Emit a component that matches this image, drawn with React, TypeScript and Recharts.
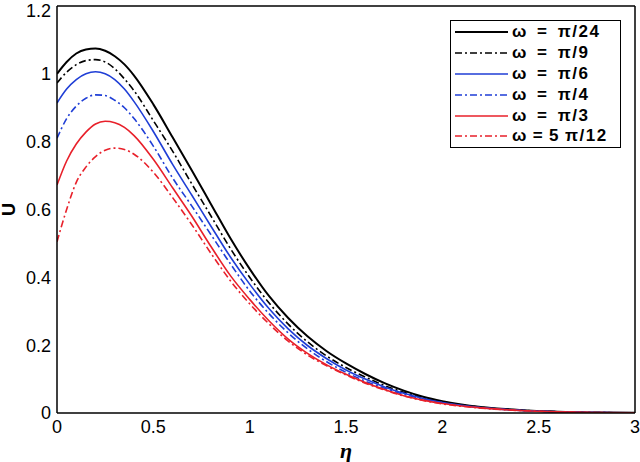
import React from 'react';
import { LineChart, Line, XAxis, YAxis, Legend } from 'recharts';

// similarity variable
const eta = [0, 0.05, 0.1, 0.15, 0.2, 0.25, 0.3, 0.35, 0.4, 0.5, 0.6, 0.7, 0.8, 0.9, 1.0, 1.1, 1.2, 1.3, 1.4, 1.5, 1.6, 1.7, 1.8, 1.9, 2.0, 2.2, 2.4, 2.6, 2.8, 3.0];

// U profiles, one array per omega
const uPi24 = [1.0, 1.035, 1.06, 1.072, 1.075, 1.068, 1.052, 1.028, 0.995, 0.91, 0.813, 0.715, 0.615, 0.515, 0.425, 0.345, 0.28, 0.226, 0.182, 0.146, 0.115, 0.088, 0.066, 0.048, 0.035, 0.018, 0.009, 0.004, 0.0015, 0.0005];
const uPi9 = [0.973, 1.005, 1.027, 1.039, 1.042, 1.035, 1.015, 0.985, 0.95, 0.862, 0.772, 0.675, 0.58, 0.485, 0.4, 0.325, 0.262, 0.21, 0.168, 0.134, 0.106, 0.081, 0.061, 0.045, 0.033, 0.017, 0.0085, 0.0038, 0.0014, 0.0005];
const uPi6 = [0.914, 0.955, 0.983, 1.0, 1.006, 1.0, 0.983, 0.955, 0.918, 0.83, 0.733, 0.642, 0.55, 0.46, 0.38, 0.308, 0.248, 0.199, 0.16, 0.127, 0.1, 0.077, 0.058, 0.043, 0.031, 0.016, 0.008, 0.0036, 0.0013, 0.0004];
const uPi4 = [0.81, 0.868, 0.905, 0.928, 0.938, 0.936, 0.922, 0.9, 0.868, 0.787, 0.693, 0.61, 0.525, 0.44, 0.36, 0.293, 0.236, 0.189, 0.151, 0.12, 0.094, 0.073, 0.055, 0.041, 0.03, 0.0155, 0.0078, 0.0035, 0.0013, 0.0004];
const uPi3 = [0.672, 0.743, 0.793, 0.828, 0.852, 0.86, 0.856, 0.842, 0.818, 0.748, 0.664, 0.58, 0.49, 0.405, 0.335, 0.272, 0.218, 0.176, 0.142, 0.114, 0.09, 0.069, 0.051, 0.038, 0.028, 0.015, 0.0075, 0.0034, 0.0012, 0.0004];
const u5Pi12 = [0.505, 0.6, 0.68, 0.725, 0.756, 0.775, 0.781, 0.777, 0.763, 0.71, 0.635, 0.555, 0.47, 0.39, 0.322, 0.263, 0.212, 0.171, 0.139, 0.112, 0.088, 0.068, 0.05, 0.037, 0.027, 0.0145, 0.0073, 0.0033, 0.0012, 0.0004];

const xTicks = [0, 0.5, 1, 1.5, 2, 2.5, 3];
const yTicks = [0, 0.2, 0.4, 0.6, 0.8, 1, 1.2];

const BLUE = '#1f3ed6';
const RED = '#e8202a';
const DASHDOT = '7 3 2 3';

const series = [
  { key: 'pi24', label: 'ω = π/24', values: uPi24, color: '#000', width: 2, dash: undefined },
  { key: 'pi9', label: 'ω = π/9', values: uPi9, color: '#000', width: 1.6, dash: DASHDOT },
  { key: 'pi6', label: 'ω = π/6', values: uPi6, color: BLUE, width: 1.6, dash: undefined },
  { key: 'pi4', label: 'ω = π/4', values: uPi4, color: BLUE, width: 1.6, dash: DASHDOT },
  { key: 'pi3', label: 'ω = π/3', values: uPi3, color: RED, width: 1.6, dash: undefined },
  { key: 'pi512', label: 'ω\u2009=\u20095\u2009π/12', values: u5Pi12, color: RED, width: 1.6, dash: DASHDOT },
];

const data = eta.map((e, i) => {
  const row: Record<string, number> = { eta: e };
  series.forEach((s) => { row[s.key] = s.values[i]; });
  return row;
});

const SANS = '"Liberation Sans", Arial, sans-serif';
const tickFont = { fontFamily: SANS, fontSize: 18, fill: '#000' };
const axisStroke = { stroke: '#000', strokeWidth: 1.5 };
const tickStroke = { stroke: '#000', strokeWidth: 1.3 };

const LegendBox = () => (
  <div style={{ border: '1.5px solid #000', background: '#fff', boxSizing: 'border-box', width: 171, height: 128, padding: '1px 0 0 4px' }}>
    {series.map((s) => (
      <div key={s.key} style={{ display: 'flex', alignItems: 'center', height: 20.8 }}>
        <svg width={53} height={6} style={{ display: 'block', flex: 'none' }}>
          <line x1={0} y1={3} x2={53} y2={3} stroke={s.color} strokeWidth={s.width} strokeDasharray={s.dash} />
        </svg>
        <span style={{ marginLeft: 4, fontFamily: SANS, fontWeight: 'bold', fontSize: 17, letterSpacing: 1.5, wordSpacing: 3, whiteSpace: 'pre', color: '#000' }}>
          {s.label}
        </span>
      </div>
    ))}
  </div>
);

export default function App() {
  return (
    <div style={{ position: 'absolute', left: 0, top: 0, background: '#fff' }}>
      <LineChart width={640} height={462} data={data} margin={{ top: 6, right: 5, bottom: 0, left: 0 }}>
        {/* 1px mirrored axes that only carry the inward tick marks of the frame */}
        <XAxis xAxisId="bm" dataKey="eta" type="number" domain={[0, 3]} ticks={xTicks} allowDataOverflow
          height={1} mirror tickSize={5} tick={false} axisLine={axisStroke} tickLine={tickStroke} />
        <YAxis yAxisId="lm" type="number" domain={[0, 1.2]} ticks={yTicks} allowDataOverflow
          width={1} mirror tickSize={5} tick={false} axisLine={axisStroke} tickLine={tickStroke} />
        <XAxis xAxisId="b" dataKey="eta" type="number" domain={[0, 3]} ticks={xTicks} allowDataOverflow
          height={49} tickLine={false} tickMargin={1} tick={tickFont} axisLine={false}
          label={{
            content: (p: any) => (
              <text x={p.viewBox.x + p.viewBox.width / 2} y={p.viewBox.y + 45} textAnchor="middle"
                fontFamily='"Liberation Serif", "Times New Roman", serif' fontWeight="bold" fontStyle="italic" fontSize={22}>η</text>
            ),
          }} />
        <XAxis xAxisId="t" dataKey="eta" orientation="top" type="number" domain={[0, 3]} ticks={xTicks} allowDataOverflow
          height={1} mirror tickSize={5} tick={false} axisLine={axisStroke} tickLine={tickStroke} />
        <YAxis yAxisId="l" type="number" domain={[0, 1.2]} ticks={yTicks} allowDataOverflow
          width={57} tickLine={false} tickMargin={0} tick={tickFont} tickFormatter={(v: number) => String(v)}
          axisLine={false}
          label={{
            content: (p: any) => {
              const x = p.viewBox.x + 9;
              const y = p.viewBox.y + p.viewBox.height / 2;
              return (
                <text x={x} y={y} transform={`rotate(-90 ${x} ${y})`} textAnchor="middle" dominantBaseline="central"
                  fontFamily={SANS} fontWeight="bold" fontSize={18}>U</text>
              );
            },
          }} />
        <YAxis yAxisId="r" orientation="right" type="number" domain={[0, 1.2]} ticks={yTicks} allowDataOverflow
          width={1} mirror tickSize={5} tick={false} axisLine={axisStroke} tickLine={tickStroke} />
        <Legend layout="vertical" align="center" verticalAlign="middle" content={<LegendBox />}
          wrapperStyle={{ left: 450, top: 20, width: 171, height: 128 }} />
        {series.map((s) => (
          <Line key={s.key} xAxisId="b" yAxisId="l" dataKey={s.key} name={s.label} type="monotone"
            stroke={s.color} strokeWidth={s.width} strokeDasharray={s.dash} dot={false} activeDot={false}
            isAnimationActive={false} />
        ))}
      </LineChart>
    </div>
  );
}
